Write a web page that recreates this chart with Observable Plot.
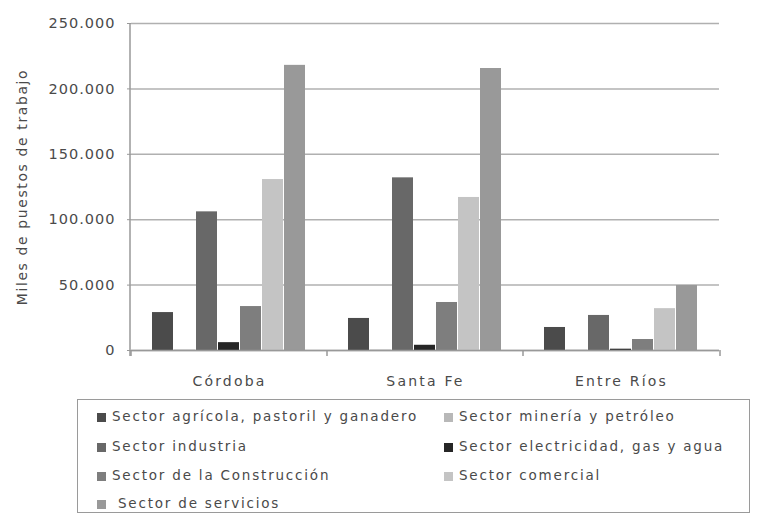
<!DOCTYPE html>
<html>
<head>
<meta charset="utf-8">
<script src="https://cdn.jsdelivr.net/npm/d3@7"></script>
<script src="https://cdn.jsdelivr.net/npm/@observablehq/plot@0.6"></script>
<style>
  body { margin: 0; background: #fff; font-family: "DejaVu Sans", sans-serif; }
  #wrap { position: relative; width: 771px; height: 516px; }
  #legend { position: absolute; left: 77px; top: 399px; width: 673px; height: 114px; box-sizing: border-box;
            border: 1.5px solid #9a9a9a; }
  .item { position: absolute; font-size: 13.5px; color: #4a4a4a; white-space: nowrap; line-height: 14px; letter-spacing: 1.8px; }
  .sw { display: inline-block; width: 9px; height: 9px; margin-right: 6px; vertical-align: -1px; }
  g[aria-label="y-axis tick label"] text { letter-spacing: 1px; }
  g[aria-label="fx-axis tick label"] text { letter-spacing: 2.2px; }
  g[aria-label="y-axis label"] text { letter-spacing: 1.6px; }
</style>
</head>
<body>
<div id="wrap">
  <div id="chart"></div>
  <div id="legend"></div>
</div>
<script>
const regions = ["Córdoba", "Santa Fe", "Entre Ríos"];
const sectors = [
  "Sector agrícola, pastoril y ganadero",
  "Sector minería y petróleo",
  "Sector industria",
  "Sector electricidad, gas y agua",
  "Sector de la Construcción",
  "Sector comercial",
  "Sector de servicios"
];
const colors = ["#4b4b4b", "#b8b8b8", "#686868", "#262626", "#7e7e7e", "#c4c4c4", "#999999"];
const agricola     = [29000, 24500, 17600];
const mineria      = [300, 300, 200];
const industria    = [106000, 132000, 26800];
const electricidad = [6000, 4000, 1000];
const construccion = [33600, 36700, 8400];
const comercial    = [130700, 117000, 32000];
const servicios    = [218000, 215600, 49700];
const yTicks = [0, 50000, 100000, 150000, 200000, 250000];

const series = [agricola, mineria, industria, electricidad, construccion, comercial, servicios];
const data = [];
regions.forEach((r, i) => series.forEach((s, j) => data.push({region: r, sector: sectors[j], value: s[i]})));

const fmt = d => d3.format(",")(d).replace(/,/g, ".");

const plot = Plot.plot({
  width: 771,
  height: 390,
  marginLeft: 130,
  marginRight: 51,
  marginTop: 23,
  marginBottom: 40,
  style: {fontFamily: "DejaVu Sans, sans-serif", color: "#4a4a4a", background: "#fff"},
  fx: {domain: regions, padding: 0, label: null},
  x: {domain: sectors, paddingInner: 0.04, paddingOuter: 0.95, axis: null},
  y: {domain: [0, 250000], axis: null},
  color: {domain: sectors, range: colors},
  marks: [
    Plot.gridY(yTicks, {stroke: "#b0b0b0", strokeOpacity: 1, strokeWidth: 1.5}),
    Plot.axisY(yTicks, {tickFormat: fmt, tickSize: 4, tickPadding: 12, fontSize: 14.5, stroke: "#999",
      label: "Miles de puestos de trabajo", labelAnchor: "center", labelOffset: 114, labelArrow: "none"}),
    Plot.axisFx({anchor: "bottom", tickSize: 0, tickPadding: 26, fontSize: 14, label: null}),
    Plot.barY(data, {fx: "region", x: "sector", y: "value", fill: "sector"}),
    Plot.ruleY([0], {stroke: "#999", strokeWidth: 1.5})
  ]
});
document.getElementById("chart").appendChild(plot);
d3.select(plot).select('g[aria-label="y-axis label"]').attr("font-size", 14);

// left axis line and category boundary ticks, from the plot's own scales
const fxs = plot.scale("fx"), ys = plot.scale("y");
const svg = d3.select(plot);
const y0 = ys.apply(0), y1 = ys.apply(250000);
svg.append("line").attr("x1", fxs.range[0]).attr("x2", fxs.range[0]).attr("y1", y0 + 6).attr("y2", y1)
  .attr("stroke", "#999").attr("stroke-width", 1.5);
const bounds = regions.map(r => fxs.apply(r)).concat([fxs.range[1]]);
bounds.forEach(b => svg.append("line").attr("x1", b).attr("x2", b).attr("y1", y0).attr("y2", y0 + 6)
  .attr("stroke", "#999").attr("stroke-width", 1.5));

// legend
const legend = document.getElementById("legend");
const pos = [[19, 9], [366, 9], [19, 39], [366, 39], [19, 68], [366, 68], [19, 96]];
sectors.forEach((s, i) => {
  const d = document.createElement("div");
  d.className = "item";
  d.style.left = pos[i][0] + "px";
  d.style.top = pos[i][1] + "px";
  const gap = i === 6 ? 12 : 6;
  d.innerHTML = `<span class="sw" style="background:${colors[i]};margin-right:${gap}px"></span>${s}`;
  legend.appendChild(d);
});
</script>
</body>
</html>
